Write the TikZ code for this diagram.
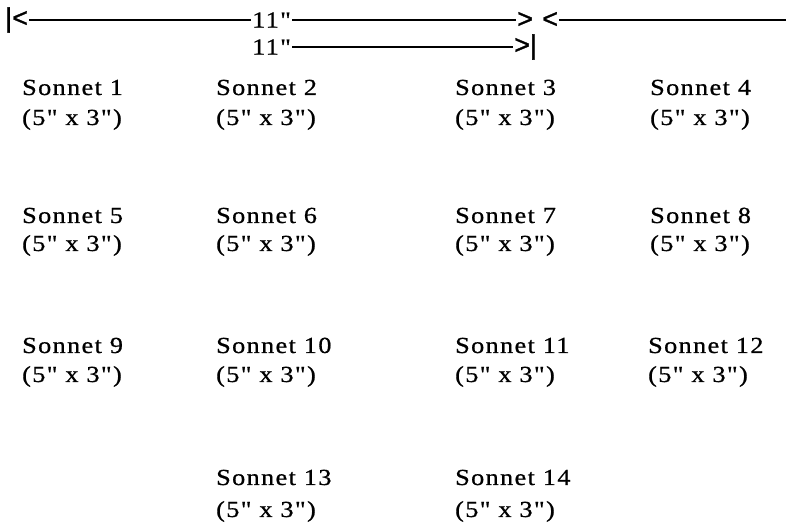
\documentclass[tikz,border=0pt]{standalone}
\usepackage{fontspec}
\setmainfont{Liberation Serif}[Ligatures=TeXOff, FakeStretch=1.14, LetterSpace=6, FakeBold=0.8]
\newfontfamily\arrowfont{Liberation Sans}[Ligatures=TeXOff, FakeBold=1.2]
\begin{document}
\begin{tikzpicture}[x=1pt, y=-1pt,
  txt/.style={anchor=base west, inner sep=0pt, font=\fontsize{23}{23}\selectfont},
  endtick/.style={anchor=west, inner xsep=1pt, inner ysep=0pt, font=\arrowfont\fontsize{27}{27}\selectfont},
  dimlabel/.style={anchor=west, inner xsep=1pt, inner ysep=0pt, font=\fontsize{23}{23}\selectfont},
  rule/.style={line width=2pt}]
\useasboundingbox (0,0) rectangle (788,529);

% dimension lines across the top
\node[endtick] (lt) at (4,20) {|<};
\node[dimlabel] (e1) at (251,20) {11"};
\node[endtick] (gt) at (516,20) {>};
\node[endtick] (lt2) at (541,20) {<};
\coordinate (rend) at (786,20);
\draw[rule] (lt) -- (e1);
\draw[rule] (e1) -- (gt);
\draw[rule] (lt2) -- (rend);

\node[dimlabel] (e2) at (251,47) {11"};
\node[endtick] (gtb) at (513,47) {>|};
\draw[rule] (e2) -- (gtb);

% sonnet cards: title and size
\foreach \n/\x/\ya/\yb in {1/22/95/125, 2/216/95/125, 3/455/95/125, 4/650/95/125,
                          5/22/223/251, 6/216/223/251, 7/455/223/251, 8/650/223/251,
                          9/22/353/382, 10/216/353/382, 11/455/353/382, 12/648/353/382,
                          13/216/485/517, 14/455/485/517} {
  \node[txt] (s\n) at (\x,\ya) {Sonnet \n};
  \node[txt] (d\n) at (\x,\yb) {(5" x 3")};
}
\end{tikzpicture}
\end{document}
